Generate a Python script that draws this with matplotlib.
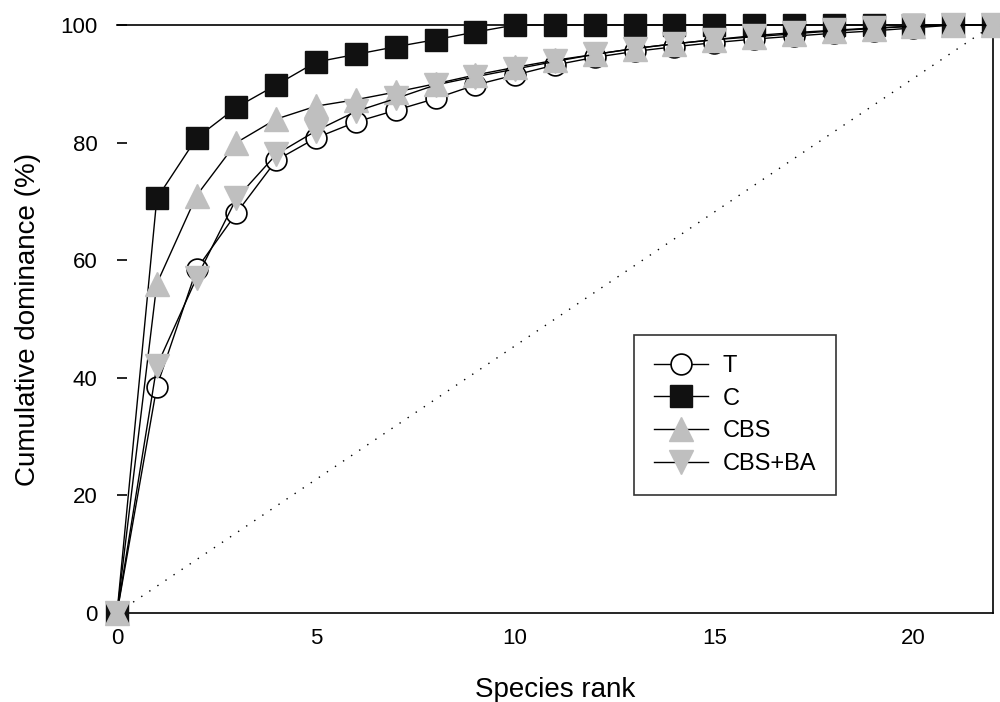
import matplotlib
matplotlib.use('Agg')
import matplotlib.pyplot as plt

plt.rcParams['font.family'] = ['Liberation Sans', 'DejaVu Sans']

# species rank
rank = list(range(0, 23))

# cumulative dominance (%) per treatment
dom_T = [0, 38.5, 58.5, 68, 77, 80.8, 83.5, 85.5, 87.5, 89.8, 91.5, 93.2, 94.5,
         95.5, 96.3, 97, 97.6, 98.1, 98.6, 99, 99.5, 100, 100]
dom_C = [0, 70.5, 80.8, 86, 89.8, 93.7, 95, 96.3, 97.5, 98.8, 100, 100, 100,
         100, 100, 100, 100, 100, 100, 100, 100, 100, 100]
dom_CBS = [0, 56, 71, 80, 84, 86.2, 87.3, 88.6, 90, 91.5, 92.8, 94, 95,
           96, 96.8, 97.5, 98, 98.5, 99, 99.4, 99.8, 100, 100]
dom_CBSBA = [0, 42, 57, 70.5, 78, 82, 85.3, 87.5, 89.8, 91.2, 92.5, 93.8, 95,
             96, 96.8, 97.5, 98.2, 98.7, 99.1, 99.5, 99.8, 100, 100]

# even-dominance reference line
even_x = [0, 22]
even_y = [0, 100]

grey = '#BFBFBF'

fig = plt.figure(figsize=(10, 7.02), dpi=100)
ax = fig.add_axes([0.117, 0.1268, 0.876, 0.8376])

ax.plot(even_x, even_y, color='black', lw=1.0, linestyle=(0, (1, 6)), zorder=1)

ax.plot(rank, dom_T, '-o', color='black', lw=1.0, ms=15, mfc='white',
        mec='black', mew=1.2, label='T', zorder=2, clip_on=False)
ax.plot(rank, dom_C, '-s', color='black', lw=1.0, ms=16, mfc='#111111',
        mec='#111111', label='C', zorder=3, clip_on=False)
ax.plot(rank, dom_CBS, '-^', color='black', lw=1.0, ms=17, mfc=grey,
        mec=grey, label='CBS', zorder=4, clip_on=False)
ax.plot(rank, dom_CBSBA, '-v', color='black', lw=1.0, ms=17, mfc=grey,
        mec=grey, label='CBS+BA', zorder=5, clip_on=False)

ax.set_xlim(0, 22)
ax.set_ylim(0, 100)
ax.set_xticks([0, 5, 10, 15, 20])
ax.set_yticks([0, 20, 40, 60, 80, 100])
ax.tick_params(axis='x', length=0, pad=11, labelsize=16)
ax.tick_params(axis='y', direction='in', length=7, width=1.2, pad=14, labelsize=16)
ax.set_xticks([20], minor=True)
ax.tick_params(axis='x', which='minor', direction='in', length=7, width=1)
ax.spines['left'].set_visible(False)
for s in ['top', 'right', 'bottom']:
    ax.spines[s].set_linewidth(1.2)

ax.set_xlabel('Species rank', fontsize=20, labelpad=20)
ax.set_ylabel('Cumulative dominance (%)', fontsize=20, labelpad=14)

leg = ax.legend(loc='upper left', bbox_to_anchor=(0.634, 0.5228),
                bbox_transform=fig.transFigure, fontsize=17, numpoints=1,
                handlelength=2.3, handletextpad=0.6, labelspacing=0.45,
                borderpad=0.85, borderaxespad=0, fancybox=False,
                frameon=True, edgecolor='black')
leg.get_frame().set_linewidth(1.2)

fig.savefig('out.png', dpi=100)
